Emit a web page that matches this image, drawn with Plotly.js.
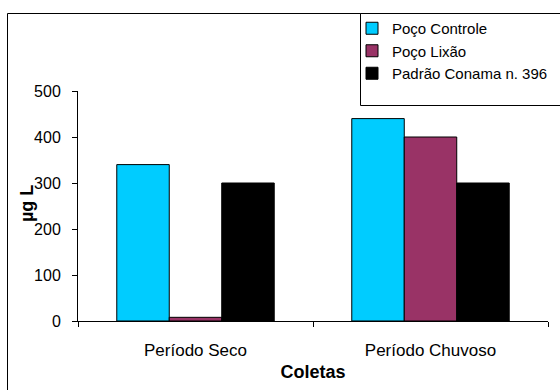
<!DOCTYPE html>
<html>
<head>
<meta charset="utf-8">
<script src="https://cdn.plot.ly/plotly-3.0.1.min.js"></script>
<style>html,body{margin:0;padding:0;background:#fff;}#chart{width:560px;height:390px;}</style>
</head>
<body>
<div id="chart"></div>
<script>
var categories = ["Período Seco", "Período Chuvoso"];
var seriesNames = ["Poço Controle", "Poço Lixão", "Padrão Conama n. 396"];
var pocoControle = [340, 440];
var pocoLixao = [8, 400];
var padraoConama = [300, 300];
var yTicks = [0, 100, 200, 300, 400, 500];
var xTitle = "Coletas";
var yTitle = "µg L";

var colors = ["#00CCFF", "#993366", "#000000"];
var values = [pocoControle, pocoLixao, padraoConama];
var font = "'Liberation Sans', Arial, sans-serif";

var traces = values.map(function (v, i) {
  return {
    type: "bar",
    name: seriesNames[i],
    x: categories,
    y: v,
    marker: { color: colors[i], line: { color: "#000", width: 1 } },
    hoverinfo: "none"
  };
});

var L = 78, R = 12, T = 91, B = 69, W = 560, H = 390;
var pw = W - L - R, ph = H - T - B;
function px(x) { return (x - L) / pw; }
function py(y) { return (H - B - y) / ph; }

var layout = {
  width: W, height: H,
  margin: { l: L, r: R, t: T, b: B, pad: 0, autoexpand: false },
  paper_bgcolor: "#fff", plot_bgcolor: "#fff",
  font: { family: font, size: 16, color: "#000" },
  barmode: "group",
  bargap: 0.33,
  bargroupgap: 0,
  showlegend: true,
  legend: {
    x: px(352), y: py(12), xanchor: "left", yanchor: "top",
    borderwidth: 0, bgcolor: "rgba(0,0,0,0)",
    font: { family: font, size: 15 },
    itemwidth: 30, tracegroupgap: 0
  },
  xaxis: {
    type: "category",
    tickson: "boundaries",
    ticks: "outside", ticklen: 5, tickcolor: "#000",
    showline: true, linecolor: "#000", linewidth: 1,
    showgrid: false, zeroline: false,
    tickfont: { family: font, size: 17 },
    ticklabelstandoff: 14,
    title: { text: "<b>" + xTitle + "</b>", font: { family: font, size: 18 }, standoff: 5 }
  },
  yaxis: {
    range: [0, 500],
    tickvals: yTicks,
    ticks: "outside", ticklen: 5, tickcolor: "#000",
    showline: true, linecolor: "#000", linewidth: 1,
    showgrid: false, zeroline: false,
    tickfont: { family: font, size: 16 },
    ticklabelstandoff: 8
  },
  annotations: [
    { text: "<b>" + yTitle + "</b>", xref: "paper", yref: "paper",
      x: px(27), y: py(204), xanchor: "center", yanchor: "middle",
      textangle: -90, showarrow: false, font: { family: font, size: 18 } }
  ],
  shapes: [
    { type: "rect", xref: "paper", yref: "paper",
      x0: px(7.5), x1: px(575), y0: py(405), y1: py(13.5),
      line: { color: "#000", width: 1 }, fillcolor: "rgba(0,0,0,0)", layer: "below" },
    { type: "rect", xref: "paper", yref: "paper",
      x0: px(360.5), x1: px(575), y0: py(105.5), y1: py(13.5),
      line: { color: "#000", width: 1 }, fillcolor: "#fff", layer: "below" }
  ]
};

Plotly.newPlot("chart", traces, layout, { staticPlot: true });
</script>
</body>
</html>
